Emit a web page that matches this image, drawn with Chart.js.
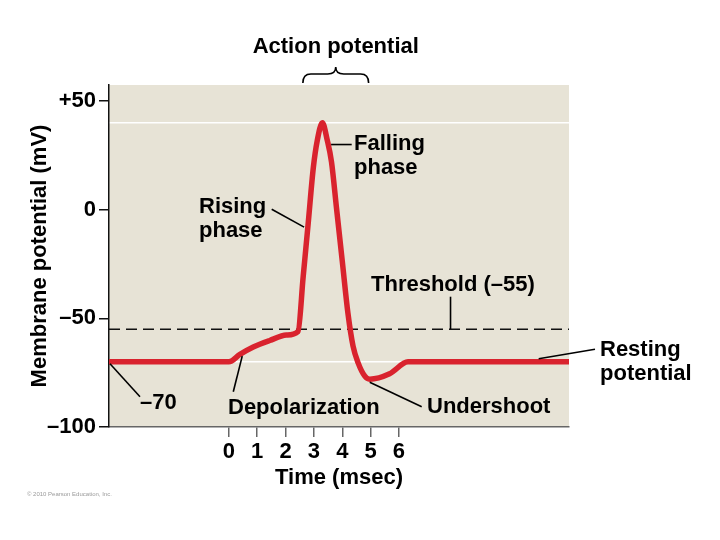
<!DOCTYPE html>
<html>
<head>
<meta charset="utf-8">
<script src="https://cdn.jsdelivr.net/npm/chart.js@4.4.0/dist/chart.umd.min.js"></script>
<style>
  html, body { margin: 0; padding: 0; background: #fff; }
  #wrap { width: 720px; height: 540px; }
</style>
</head>
<body>
<div id="wrap"><canvas id="apChart" width="720" height="540"></canvas></div>
<script>
// time axis (msec) and membrane potential (mV)
const timeMs = [-4.23, 0, 0.39, 0.86, 1.44, 2.03, 2.44, 2.62, 2.80, 2.98, 3.12, 3.30, 3.47, 3.62, 3.80, 4.00, 4.20, 4.38, 4.56, 4.79, 4.97, 5.67, 6.32, 12];
const membraneMv = [-70, -70, -66.6, -63.2, -60.2, -57.7, -56, -31, -6, 19.5, 32, 40, 32, 22, 0.4, -23.6, -47.6, -62.7, -70.5, -76.5, -78, -75.5, -70, -70];

const thresholdMv = -55;
const whiteLevels = [40, -70];

const xMin = -4.23;
const xMax = 12;
const yMin = -100;
const yMax = 57.4;

const xTickValues = [0, 1, 2, 3, 4, 5, 6];
const yTickValues = [-100, -50, 0, 50];
const yTickLabels = ["–100", "–50", "0", "+50"];

const FONT = '"Liberation Sans", Arial, Helvetica, sans-serif';
const labelFont = { family: FONT, size: 22, weight: "bold" };

// callouts: text position, pointer start, and where the pointer meets the curve (data units)
const callouts = [
    { lines: ["Rising", "phase"], x: 199, y: 207, from: [271.7, 209.3], at: [2.76, -8], dx: -3, dy: 0 },
    { lines: ["Falling", "phase"], x: 354, y: 144, from: [351.7, null], at: [3.50, 30], dx: 3, dy: 0 },
    { lines: ["Threshold (–55)"], x: 371, y: 285, from: [null, 296.7], at: [7.82, thresholdMv], dx: 0, dy: 0 },
    { lines: ["Resting", "potential"], x: 600, y: 350, from: [595, 349.3], at: [10.93, -70], dx: 0, dy: -3 },
    { lines: ["Undershoot"], x: 427, y: 407, from: [421.7, 406.7], at: [4.97, -78], dx: 0, dy: 3 },
    { lines: ["Depolarization"], x: 228, y: 408, from: [233.3, 391.7], at: [0.47, -66], dx: 0, dy: 3 },
    { lines: ["–70"], x: 140, y: 403, from: [140, 396.7], at: [xMin, -70], dx: 1, dy: 2 },
];

const backdrop = {
    id: "backdrop",
    beforeDraw(chart) {
        const { ctx, chartArea: a, scales } = chart;
        ctx.save();
        ctx.fillStyle = "#e7e3d6";
        ctx.fillRect(a.left, a.top, a.right - a.left, a.bottom - a.top);
        ctx.strokeStyle = "#ffffff";
        ctx.lineWidth = 1.5;
        whiteLevels.forEach((v) => {
            const py = scales.y.getPixelForValue(v);
            ctx.beginPath();
            ctx.moveTo(a.left, py);
            ctx.lineTo(a.right, py);
            ctx.stroke();
        });
        ctx.restore();
    },
};

const notes = {
    id: "notes",
    afterDatasetsDraw(chart) {
        const { ctx, chartArea: a, scales } = chart;
        const xs = scales.x, ys = scales.y;
        ctx.save();
        ctx.font = `bold 22px ${FONT}`;
        ctx.fillStyle = "#000";
        ctx.strokeStyle = "#000";
        ctx.lineWidth = 1.6;
        ctx.textBaseline = "middle";

        // brace + "Action potential"
        const bx1 = xs.getPixelForValue(2.61);
        const bx2 = xs.getPixelForValue(4.93);
        const bc = (bx1 + bx2) / 2;
        const yb = a.top - 2, ym = a.top - 11, yt = a.top - 18, r = 8;
        ctx.beginPath();
        ctx.moveTo(bx1, yb);
        ctx.quadraticCurveTo(bx1, ym, bx1 + r, ym);
        ctx.lineTo(bc - r, ym);
        ctx.quadraticCurveTo(bc, ym, bc, yt);
        ctx.quadraticCurveTo(bc, ym, bc + r, ym);
        ctx.lineTo(bx2 - r, ym);
        ctx.quadraticCurveTo(bx2, ym, bx2, yb);
        ctx.stroke();
        ctx.textAlign = "center";
        ctx.fillText("Action potential", bc, a.top - 38);

        ctx.textAlign = "left";
        callouts.forEach((c) => {
            const ex = xs.getPixelForValue(c.at[0]) + c.dx;
            const ey = ys.getPixelForValue(c.at[1]) + c.dy;
            const sx = c.from[0] === null ? ex : c.from[0];
            const sy = c.from[1] === null ? ey : c.from[1];
            ctx.beginPath();
            ctx.moveTo(sx, sy);
            ctx.lineTo(ex, ey);
            ctx.stroke();
            c.lines.forEach((t, i) => ctx.fillText(t, c.x, c.y + i * 23.5));
        });

        ctx.font = `6px ${FONT}`;
        ctx.fillStyle = "#9a9a9a";
        ctx.fillText("© 2010 Pearson Education, Inc.", 27, 494);
        ctx.restore();
    },
};

const ctx = document.getElementById("apChart").getContext("2d");

new Chart(ctx, {
    type: "line",
    data: {
        datasets: [
            {
                label: "Membrane potential",
                data: timeMs.map((t, i) => ({ x: t, y: membraneMv[i] })),
                borderColor: "#d9232e",
                borderWidth: 5.5,
                pointRadius: 0,
                cubicInterpolationMode: "monotone",
                borderCapStyle: "round",
                borderJoinStyle: "round",
                order: 0,
            },
            {
                label: "Threshold",
                data: [{ x: xMin, y: thresholdMv }, { x: xMax, y: thresholdMv }],
                borderColor: "#111",
                borderWidth: 1.5,
                borderDash: [11, 6],
                pointRadius: 0,
                order: 1,
            },
        ],
    },
    options: {
        responsive: false,
        animation: false,
        layout: { padding: { left: 0, top: 85, right: 151, bottom: 49 } },
        plugins: {
            legend: { display: false },
            tooltip: { enabled: false },
        },
        scales: {
            x: {
                type: "linear",
                min: xMin,
                max: xMax,
                afterBuildTicks: (scale) => {
                    scale.ticks = xTickValues.map((v) => ({ value: v }));
                },
                afterFit: (scale) => {
                    scale.height = 64;
                },
                grid: { display: true, drawOnChartArea: false, drawTicks: true, tickLength: 10, color: "#666", lineWidth: 1.5 },
                border: { display: true, color: "#666", width: 1.5 },
                ticks: { color: "#000", font: labelFont, padding: 2, maxRotation: 0 },
                title: { display: true, text: "Time (msec)", color: "#000", font: labelFont, padding: { top: 0, bottom: 0 } },
            },
            y: {
                type: "linear",
                min: yMin,
                max: yMax,
                afterBuildTicks: (scale) => {
                    scale.ticks = yTickValues.map((v) => ({ value: v }));
                },
                afterFit: (scale) => {
                    scale.width = 109;
                },
                grid: { display: true, drawOnChartArea: false, drawTicks: true, tickLength: 10, color: "#111", lineWidth: 1.5 },
                border: { display: true, color: "#111", width: 1.5 },
                ticks: {
                    color: "#000",
                    font: labelFont,
                    padding: 3,
                    callback: (value) => yTickLabels[yTickValues.indexOf(value)],
                },
                title: { display: true, text: "Membrane potential (mV)", color: "#000", font: labelFont, padding: { top: 27, bottom: 0 } },
            },
        },
    },
    plugins: [backdrop, notes],
});
</script>
</body>
</html>
